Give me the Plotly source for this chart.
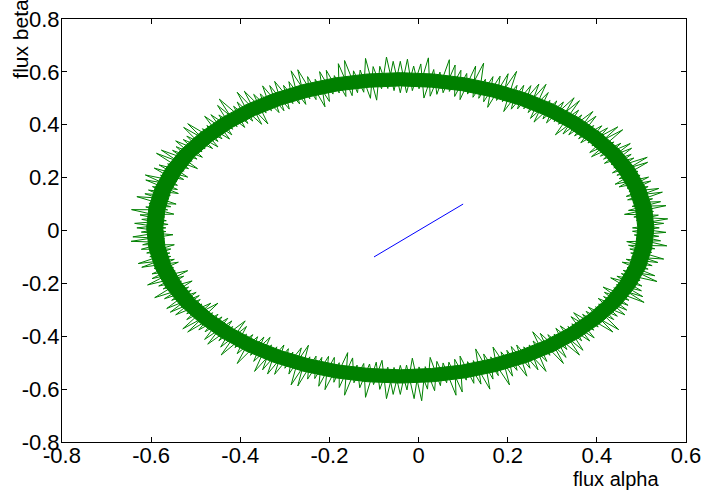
import plotly.graph_objects as go

# noisy flux trajectory, first loop
flux_a = [0.540, 0.490, 0.559, 0.483, 0.527, 0.471, 0.543, 0.481, 0.547, 0.466,
          0.515, 0.468, 0.516, 0.441, 0.492, 0.445, 0.513, 0.438, 0.477, 0.417,
          0.475, 0.408, 0.438, 0.384, 0.447, 0.380, 0.411, 0.359, 0.398, 0.337,
          0.366, 0.307, 0.361, 0.304, 0.325, 0.279, 0.295, 0.251, 0.286, 0.236,
          0.252, 0.208, 0.221, 0.188, 0.201, 0.155, 0.167, 0.135, 0.146, 0.110,
          0.108, 0.081, 0.082, 0.055, 0.048, 0.026, 0.022, 0.001, -0.011, -0.027,
          -0.041, -0.055, -0.072, -0.083, -0.102, -0.108, -0.131, -0.137, -0.166, -0.163,
          -0.189, -0.192, -0.222, -0.210, -0.249, -0.244, -0.286, -0.267, -0.303, -0.290,
          -0.334, -0.313, -0.355, -0.342, -0.391, -0.352, -0.407, -0.383, -0.447, -0.407,
          -0.448, -0.419, -0.480, -0.441, -0.485, -0.450, -0.527, -0.479, -0.528, -0.485,
          -0.544, -0.508, -0.577, -0.516, -0.563, -0.518, -0.593, -0.542, -0.613, -0.541,
          -0.597, -0.557, -0.614, -0.544, -0.605, -0.563, -0.644, -0.570, -0.621, -0.562,
          -0.632, -0.567, -0.641, -0.570, -0.619, -0.548, -0.610, -0.558, -0.629, -0.548,
          -0.593, -0.550, -0.598, -0.518, -0.583, -0.532, -0.592, -0.516, -0.554, -0.499,
          -0.557, -0.490, -0.520, -0.466, -0.529, -0.462, -0.493, -0.441, -0.480, -0.419,
          -0.448, -0.389, -0.443, -0.386, -0.407, -0.361, -0.377, -0.333, -0.368, -0.318,
          -0.339, -0.292, -0.300, -0.263, -0.286, -0.244, -0.249, -0.217, -0.224, -0.189,
          -0.190, -0.159, -0.166, -0.138, -0.132, -0.110, -0.101, -0.082, -0.072, -0.055,
          -0.041, -0.027, -0.010, 0.001, 0.020, 0.026, 0.049, 0.055, 0.084, 0.081,
          0.107, 0.110, 0.140, 0.128, 0.167, 0.162, 0.204, 0.185, 0.221, 0.208,
          0.250, 0.236, 0.286, 0.257, 0.295, 0.273, 0.331, 0.304, 0.361, 0.318,
          0.366, 0.344, 0.394, 0.348, 0.403, 0.376, 0.449, 0.397, 0.446, 0.403,
          0.467, 0.417, 0.472, 0.438, 0.503, 0.431, 0.501, 0.455, 0.535, 0.468,
          0.515, 0.466, 0.537, 0.476, 0.523, 0.471, 0.557, 0.488, 0.539, 0.480, 0.540]
flux_b = [0.010, 0.024, 0.044, 0.051, 0.072, 0.076, 0.109, 0.106, 0.145, 0.129,
          0.166, 0.160, 0.202, 0.175, 0.224, 0.209, 0.277, 0.237, 0.288, 0.254,
          0.329, 0.281, 0.335, 0.295, 0.392, 0.331, 0.396, 0.347, 0.432, 0.362,
          0.437, 0.362, 0.491, 0.412, 0.486, 0.422, 0.492, 0.424, 0.553, 0.460,
          0.548, 0.459, 0.549, 0.487, 0.593, 0.466, 0.582, 0.500, 0.633, 0.516,
          0.594, 0.507, 0.626, 0.521, 0.599, 0.508, 0.653, 0.536, 0.622, 0.521,
          0.640, 0.529, 0.656, 0.536, 0.620, 0.500, 0.607, 0.521, 0.643, 0.507,
          0.586, 0.516, 0.601, 0.468, 0.582, 0.498, 0.604, 0.479, 0.549, 0.459,
          0.548, 0.446, 0.517, 0.445, 0.527, 0.402, 0.486, 0.405, 0.497, 0.393,
          0.437, 0.362, 0.432, 0.347, 0.385, 0.316, 0.390, 0.309, 0.344, 0.277,
          0.317, 0.262, 0.304, 0.234, 0.252, 0.202, 0.236, 0.186, 0.210, 0.155,
          0.166, 0.133, 0.139, 0.100, 0.103, 0.078, 0.079, 0.051, 0.042, 0.023,
          0.010, -0.004, -0.024, -0.031, -0.054, -0.054, -0.085, -0.085, -0.125, -0.109,
          -0.144, -0.140, -0.182, -0.152, -0.210, -0.192, -0.254, -0.214, -0.264, -0.234,
          -0.309, -0.261, -0.315, -0.275, -0.372, -0.311, -0.376, -0.327, -0.412, -0.342,
          -0.417, -0.342, -0.471, -0.392, -0.466, -0.402, -0.472, -0.404, -0.533, -0.440,
          -0.543, -0.447, -0.521, -0.444, -0.584, -0.478, -0.562, -0.480, -0.589, -0.480,
          -0.574, -0.462, -0.623, -0.509, -0.595, -0.505, -0.583, -0.491, -0.636, -0.518,
          -0.620, -0.509, -0.636, -0.516, -0.600, -0.480, -0.587, -0.501, -0.623, -0.487,
          -0.566, -0.496, -0.581, -0.448, -0.562, -0.478, -0.584, -0.459, -0.529, -0.439,
          -0.521, -0.440, -0.533, -0.418, -0.472, -0.389, -0.480, -0.392, -0.471, -0.361,
          -0.417, -0.353, -0.406, -0.311, -0.365, -0.306, -0.375, -0.289, -0.324, -0.257,
          -0.301, -0.234, -0.264, -0.217, -0.250, -0.179, -0.210, -0.163, -0.193, -0.140,
          -0.146, -0.109, -0.121, -0.085, -0.083, -0.056, -0.058, -0.031, -0.022, -0.003, 0.010]

# second loop of the trajectory
flux2_a = [0.480, 0.550, 0.489, 0.538, 0.462, 0.555, 0.479, 0.525, 0.469, 0.539,
           0.472, 0.521, 0.450, 0.497, 0.450, 0.514, 0.435, 0.483, 0.432, 0.478,
           0.415, 0.454, 0.388, 0.458, 0.389, 0.424, 0.364, 0.393, 0.350, 0.391,
           0.324, 0.359, 0.314, 0.349, 0.287, 0.310, 0.259, 0.291, 0.246, 0.270,
           0.222, 0.236, 0.191, 0.220, 0.175, 0.183, 0.146, 0.150, 0.122, 0.128,
           0.093, 0.095, 0.069, 0.069, 0.041, 0.034, 0.012, 0.005, -0.014, -0.025,
           -0.041, -0.057, -0.069, -0.087, -0.094, -0.119, -0.123, -0.146, -0.149, -0.180,
           -0.178, -0.207, -0.200, -0.232, -0.230, -0.271, -0.253, -0.291, -0.282, -0.323,
           -0.302, -0.350, -0.330, -0.370, -0.338, -0.407, -0.372, -0.415, -0.390, -0.451,
           -0.417, -0.466, -0.424, -0.475, -0.450, -0.518, -0.462, -0.520, -0.486, -0.545,
           -0.497, -0.552, -0.496, -0.588, -0.526, -0.582, -0.527, -0.579, -0.541, -0.612,
           -0.539, -0.606, -0.560, -0.632, -0.556, -0.612, -0.549, -0.625, -0.566, -0.637,
           -0.567, -0.622, -0.551, -0.645, -0.569, -0.622, -0.556, -0.603, -0.556, -0.621,
           -0.539, -0.598, -0.546, -0.608, -0.527, -0.573, -0.508, -0.570, -0.510, -0.565,
           -0.492, -0.545, -0.486, -0.520, -0.450, -0.518, -0.450, -0.479, -0.428, -0.473,
           -0.417, -0.444, -0.386, -0.412, -0.372, -0.407, -0.347, -0.370, -0.330, -0.350,
           -0.302, -0.323, -0.282, -0.291, -0.247, -0.271, -0.230, -0.233, -0.202, -0.210,
           -0.178, -0.178, -0.148, -0.145, -0.123, -0.119, -0.095, -0.087, -0.069, -0.057,
           -0.041, -0.026, -0.014, 0.007, 0.015, 0.036, 0.041, 0.063, 0.068, 0.098,
           0.093, 0.124, 0.123, 0.160, 0.146, 0.179, 0.167, 0.211, 0.198, 0.243,
           0.220, 0.268, 0.248, 0.288, 0.256, 0.325, 0.290, 0.333, 0.308, 0.369,
           0.335, 0.384, 0.342, 0.393, 0.368, 0.436, 0.381, 0.438, 0.404, 0.463,
           0.415, 0.470, 0.414, 0.506, 0.444, 0.500, 0.445, 0.497, 0.459, 0.530,
           0.457, 0.524, 0.478, 0.550, 0.474, 0.530, 0.467, 0.543, 0.484, 0.555, 0.480]
flux2_b = [0.010, 0.027, 0.038, 0.058, 0.061, 0.094, 0.091, 0.120, 0.116, 0.159,
           0.147, 0.187, 0.165, 0.209, 0.196, 0.258, 0.218, 0.274, 0.250, 0.311,
           0.270, 0.330, 0.279, 0.381, 0.320, 0.388, 0.332, 0.397, 0.358, 0.450,
           0.365, 0.455, 0.402, 0.502, 0.407, 0.490, 0.410, 0.522, 0.446, 0.554,
           0.460, 0.549, 0.450, 0.602, 0.492, 0.584, 0.487, 0.572, 0.504, 0.622,
           0.495, 0.606, 0.526, 0.646, 0.515, 0.609, 0.501, 0.630, 0.529, 0.648,
           0.521, 0.640, 0.537, 0.621, 0.493, 0.651, 0.523, 0.604, 0.510, 0.631,
           0.520, 0.606, 0.488, 0.572, 0.495, 0.608, 0.477, 0.563, 0.480, 0.564,
           0.453, 0.547, 0.453, 0.515, 0.403, 0.523, 0.414, 0.470, 0.390, 0.473,
           0.383, 0.438, 0.346, 0.397, 0.337, 0.404, 0.310, 0.357, 0.298, 0.339,
           0.270, 0.303, 0.234, 0.292, 0.225, 0.248, 0.193, 0.209, 0.171, 0.191,
           0.140, 0.153, 0.120, 0.128, 0.090, 0.089, 0.062, 0.059, 0.037, 0.027,
           0.010, -0.006, -0.016, -0.041, -0.045, -0.071, -0.070, -0.099, -0.098, -0.139,
           -0.120, -0.164, -0.153, -0.206, -0.173, -0.221, -0.191, -0.258, -0.226, -0.295,
           -0.246, -0.319, -0.278, -0.337, -0.275, -0.384, -0.317, -0.383, -0.332, -0.430,
           -0.363, -0.441, -0.363, -0.443, -0.394, -0.503, -0.403, -0.495, -0.433, -0.527,
           -0.433, -0.544, -0.460, -0.543, -0.434, -0.588, -0.475, -0.560, -0.476, -0.602,
           -0.500, -0.594, -0.482, -0.576, -0.503, -0.631, -0.498, -0.601, -0.517, -0.620,
           -0.510, -0.603, -0.483, -0.644, -0.515, -0.606, -0.495, -0.576, -0.498, -0.611,
           -0.475, -0.578, -0.492, -0.600, -0.467, -0.549, -0.441, -0.551, -0.453, -0.551,
           -0.433, -0.527, -0.433, -0.495, -0.383, -0.503, -0.394, -0.450, -0.370, -0.453,
           -0.363, -0.418, -0.326, -0.377, -0.317, -0.384, -0.290, -0.337, -0.278, -0.319,
           -0.250, -0.283, -0.214, -0.272, -0.205, -0.228, -0.173, -0.189, -0.151, -0.171,
           -0.120, -0.133, -0.100, -0.108, -0.070, -0.069, -0.042, -0.039, -0.017, -0.007, 0.010]

# dense core of the band: outer and inner edges
core_out_a = [0.528, 0.523, 0.509, 0.485, 0.452, 0.410, 0.361, 0.305, 0.244, 0.177, 0.106, 0.033,
              -0.041, -0.115, -0.188, -0.259, -0.326, -0.387, -0.443, -0.492, -0.534, -0.567, -0.591, -0.605,
              -0.610, -0.605, -0.591, -0.567, -0.534, -0.492, -0.443, -0.387, -0.326, -0.259, -0.188, -0.115,
              -0.041, 0.033, 0.106, 0.177, 0.244, 0.305, 0.361, 0.410, 0.452, 0.485, 0.509, 0.523]
core_out_b = [0.010, 0.087, 0.162, 0.235, 0.304, 0.367, 0.425, 0.476, 0.518, 0.552, 0.577, 0.592,
              0.597, 0.592, 0.577, 0.552, 0.518, 0.476, 0.425, 0.367, 0.304, 0.235, 0.162, 0.087,
              0.010, -0.067, -0.142, -0.215, -0.284, -0.347, -0.405, -0.456, -0.498, -0.532, -0.557, -0.572,
              -0.577, -0.572, -0.557, -0.532, -0.498, -0.456, -0.405, -0.347, -0.284, -0.215, -0.142, -0.067]
core_in_a = [0.492, 0.487, 0.474, 0.451, 0.421, 0.382, 0.336, 0.284, 0.226, 0.163, 0.097, 0.029,
             -0.041, -0.111, -0.179, -0.245, -0.308, -0.366, -0.418, -0.464, -0.503, -0.533, -0.556, -0.569,
             -0.574, -0.569, -0.556, -0.533, -0.503, -0.464, -0.418, -0.366, -0.308, -0.245, -0.179, -0.111,
             -0.041, 0.029, 0.097, 0.163, 0.226, 0.284, 0.336, 0.382, 0.421, 0.451, 0.474, 0.487]
core_in_b = [0.010, 0.080, 0.149, 0.216, 0.279, 0.337, 0.390, 0.436, 0.475, 0.506, 0.529, 0.542,
             0.547, 0.542, 0.529, 0.506, 0.475, 0.436, 0.390, 0.337, 0.279, 0.216, 0.149, 0.080,
             0.010, -0.060, -0.129, -0.196, -0.259, -0.317, -0.370, -0.416, -0.455, -0.486, -0.509, -0.522,
             -0.527, -0.522, -0.509, -0.486, -0.455, -0.416, -0.370, -0.317, -0.259, -0.196, -0.129, -0.060]

# blue segment
seg_x = [-0.1, 0.1]
seg_y = [-0.1, 0.1]

x_ticks = [-0.8, -0.6, -0.4, -0.2, 0, 0.2, 0.4, 0.6]
x_tick_text = ["-0.8", "-0.6", "-0.4", "-0.2", "0", "0.2", "0.4", "0.6"]
y_ticks = [-0.8, -0.6, -0.4, -0.2, 0, 0.2, 0.4, 0.6, 0.8]
y_tick_text = ["-0.8", "-0.6", "-0.4", "-0.2", "0", "0.2", "0.4", "0.6", "0.8"]

GREEN = "rgb(0,128,0)"
FONT = "Liberation Sans, Arial, sans-serif"

ring_x = core_out_a + [core_out_a[0], core_in_a[0]] + core_in_a[:0:-1] + [core_in_a[0]]
ring_y = core_out_b + [core_out_b[0], core_in_b[0]] + core_in_b[:0:-1] + [core_in_b[0]]

fig = go.Figure()
fig.add_trace(go.Scatter(x=ring_x, y=ring_y, mode="lines", fill="toself",
                         fillcolor=GREEN, line=dict(width=1, color=GREEN),
                         hoverinfo="skip", showlegend=False))
fig.add_trace(go.Scatter(x=flux_a, y=flux_b, mode="lines",
                         line=dict(color=GREEN, width=1), showlegend=False))
fig.add_trace(go.Scatter(x=flux2_a, y=flux2_b, mode="lines",
                         line=dict(color=GREEN, width=1), showlegend=False))
fig.add_trace(go.Scatter(x=seg_x, y=seg_y, mode="lines",
                         line=dict(color="rgb(0,0,255)", width=1), showlegend=False))

axis_common = dict(showgrid=False, zeroline=False, showline=True, linecolor="black",
                   linewidth=1, mirror="ticks", ticks="inside", ticklen=5, automargin=False,
                   tickcolor="black", tickfont=dict(family=FONT, size=22, color="black"))

fig.update_layout(
    width=705, height=490, autosize=False,
    margin=dict(l=62, r=19, t=19, b=48),
    plot_bgcolor="white", paper_bgcolor="white",
    xaxis=dict(range=[-0.8, 0.6], tickvals=x_ticks, ticktext=x_tick_text,
               ticklabelstandoff=-6, **axis_common),
    yaxis=dict(range=[-0.8, 0.8], tickvals=y_ticks, ticktext=y_tick_text,
               ticklabelstandoff=-3, **axis_common),
    annotations=[
        dict(text="flux alpha", xref="paper", yref="paper", x=0.888, y=-0.087,
             xanchor="center", yanchor="middle", showarrow=False,
             font=dict(family=FONT, size=20, color="black")),
        dict(text="flux beta", xref="paper", yref="paper", x=-0.066, y=0.953,
             xanchor="center", yanchor="middle", showarrow=False, textangle=-90,
             font=dict(family=FONT, size=21, color="black")),
    ],
)

fig.write_html("out.html",
               config={"responsive": False, "displayModeBar": False},
               post_script="document.body.style.margin='0px';"
                           "document.body.style.overflow='hidden';")
